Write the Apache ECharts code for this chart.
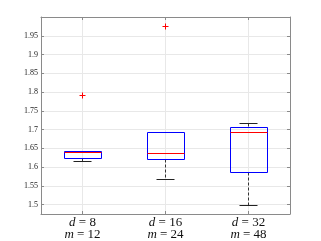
<!DOCTYPE html>
<html><head><meta charset="utf-8">
<script src="https://cdn.jsdelivr.net/npm/echarts@6/dist/echarts.min.js"></script>
<style>html,body{margin:0;padding:0;background:#fff}#c{width:321px;height:241px}</style>
</head><body><div id="c"></div>
<script>
var dVals = [8, 16, 32];
var mVals = [12, 24, 48];
var lowerWhisker = [1.615, 1.568, 1.497];
var q1 = [1.623, 1.621, 1.585];
var median = [1.640, 1.636, 1.691];
var q3 = [1.641, 1.693, 1.705];
var upperWhisker = [1.641, 1.693, 1.716];
var outliers = [[1, 1.792], [2, 1.976]];
var yTicks = [1.5, 1.55, 1.6, 1.65, 1.7, 1.75, 1.8, 1.85, 1.9, 1.95];
var xTicks = [1, 2, 3];

var boxData = dVals.map(function (d, i) {
  return [i + 1, lowerWhisker[i], q1[i], median[i], q3[i], upperWhisker[i]];
});

var serif = 'Liberation Serif';
var frame = '#8a8a8a';

function snap(v) { return Math.round(v - 0.5) + 0.5; }

function renderBox(params, api) {
  var x = api.value(0);
  var unit = api.size([1, 0])[0];
  var bw = Math.round(unit * 0.45), cw = Math.round(unit * 0.22);
  var pLo = api.coord([x, api.value(1)]);
  var yLo = snap(pLo[1]);
  var yQ1 = snap(api.coord([x, api.value(2)])[1]);
  var yMed = snap(api.coord([x, api.value(3)])[1]);
  var yQ3 = snap(api.coord([x, api.value(4)])[1]);
  var yHi = snap(api.coord([x, api.value(5)])[1]);
  var cx = snap(pLo[0]);
  var children = [];
  var dash = {stroke: '#333', lineWidth: 1, lineDash: [3, 2]};
  var solid = {stroke: '#222', lineWidth: 1};
  if (yLo - yQ1 > 0.5) {
    children.push({type: 'line', shape: {x1: cx, y1: yQ1, x2: cx, y2: yLo}, style: dash});
  }
  children.push({type: 'line', shape: {x1: cx - cw / 2, y1: yLo, x2: cx + cw / 2, y2: yLo}, style: solid});
  if (yQ3 - yHi > 0.5) {
    children.push({type: 'line', shape: {x1: cx, y1: yHi, x2: cx, y2: yQ3}, style: dash});
    children.push({type: 'line', shape: {x1: cx - cw / 2, y1: yHi, x2: cx + cw / 2, y2: yHi}, style: solid});
  }
  var xl = snap(cx - bw / 2), xr = snap(cx + bw / 2);
  children.push({type: 'rect', shape: {x: xl, y: yQ3, width: xr - xl, height: yQ1 - yQ3},
    style: {fill: 'none', stroke: '#0000ff', lineWidth: 1}});
  children.push({type: 'line', shape: {x1: xl, y1: yMed, x2: xr, y2: yMed},
    style: {stroke: '#ff0000', lineWidth: 1}});
  return {type: 'group', children: children};
}

function renderOutlier(params, api) {
  var p = api.coord([api.value(0), api.value(1)]);
  var px = snap(p[0]), py = snap(p[1]);
  var s = 3;
  var st = {stroke: '#ff0000', lineWidth: 1};
  return {type: 'group', children: [
    {type: 'line', shape: {x1: px - s, y1: py, x2: px + s, y2: py}, style: st},
    {type: 'line', shape: {x1: px, y1: py - s, x2: px, y2: py + s}, style: st}
  ]};
}

var chart = echarts.init(document.getElementById('c'), null, {renderer: 'canvas'});
var axisLineStyle = {show: true, lineStyle: {color: frame, width: 1}};
chart.setOption({
  animation: false,
  backgroundColor: '#fff',
  grid: {left: 41, top: 17, right: 31, bottom: 27, containLabel: false},
  xAxis: [{
    type: 'value', min: 0.5, max: 3.5, position: 'bottom',
    axisLine: axisLineStyle,
    axisTick: {show: true, inside: true, length: 3, customValues: xTicks, lineStyle: {color: frame}},
    splitLine: {show: true, lineStyle: {color: '#e8e8e8', width: 1}},
    axisLabel: {
      customValues: xTicks, margin: 3, color: '#111', fontFamily: serif, fontSize: 13, lineHeight: 11.5,
      formatter: function (v) {
        var i = Math.round(v) - 1;
        return '{i|d} = ' + dVals[i] + '\n{i|m} = ' + mVals[i];
      },
      rich: {i: {fontStyle: 'italic', fontFamily: serif, fontSize: 13, color: '#111', lineHeight: 11.5}}
    }
  }, {
    type: 'value', min: 0.5, max: 3.5, position: 'top',
    axisLine: axisLineStyle,
    axisTick: {show: true, inside: true, length: 3, customValues: xTicks, lineStyle: {color: frame}},
    splitLine: {show: false}, axisLabel: {show: false}
  }],
  yAxis: [{
    type: 'value', min: 1.475, max: 2.0, position: 'left',
    axisLine: axisLineStyle,
    axisTick: {show: true, inside: true, length: 3, customValues: yTicks, lineStyle: {color: frame}},
    splitLine: {show: true, lineStyle: {color: '#e8e8e8', width: 1}},
    axisLabel: {customValues: yTicks, margin: 3, color: '#222', fontFamily: serif, fontSize: 8,
      formatter: function (v) { return String(+v.toFixed(2)); }}
  }, {
    type: 'value', min: 1.475, max: 2.0, position: 'right',
    axisLine: axisLineStyle,
    axisTick: {show: true, inside: true, length: 3, customValues: yTicks, lineStyle: {color: frame}},
    splitLine: {show: false}, axisLabel: {show: false}
  }],
  series: [{
    type: 'custom', renderItem: renderBox, data: boxData,
    encode: {x: 0, y: [1, 2, 3, 4, 5]}, clip: false, z: 3
  }, {
    type: 'custom', renderItem: renderOutlier, data: outliers,
    encode: {x: 0, y: 1}, clip: false, z: 4
  }]
});
</script></body></html>
